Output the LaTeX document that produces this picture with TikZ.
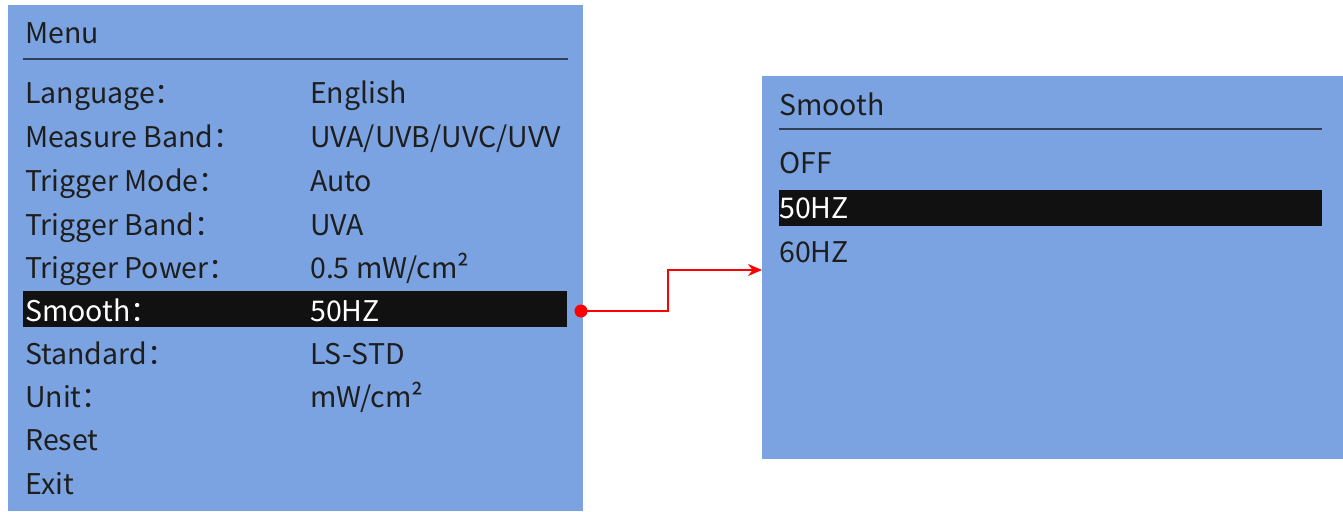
\documentclass[tikz,border=0pt]{standalone}
\usepackage{fontspec}
\setmainfont{Noto Sans CJK SC}
\usetikzlibrary{arrows.meta}
\definecolor{panelblue}{RGB}{123,163,225}
\definecolor{bardark}{RGB}{17,17,17}
\definecolor{txt}{RGB}{30,30,30}
\definecolor{rule}{RGB}{50,62,85}
\tikzset{
  panel/.style={fill=panelblue, draw=none},
  selbar/.style={fill=bardark, draw=none},
  lbl/.style={anchor=base west, inner sep=0pt, font=\fontsize{28.5}{31}\selectfont, text=txt},
  sel/.style={lbl, text=white},
  hrule/.style={draw=rule, line width=1.8pt},
  link/.style={draw=red, line width=2pt, -{Stealth[length=14pt,width=12pt]}},
}
\begin{document}
\begin{tikzpicture}[x=1pt,y=-1pt]
\useasboundingbox (0,0) rectangle (1343,511);
% left panel
\path[panel] (8,5) rectangle (583,511);
\draw[hrule] (23,59) -- (568,59);
\path[selbar] (23,291) rectangle (567,327);
\node[lbl] (menu) at (25,43.5) {Menu};
\node[lbl] (l1) at (25,103) {Language：};
\node[lbl] (v1) at (310,103) {English};
\node[lbl] (l2) at (25,147) {Measure Band：};
\node[lbl] (v2) at (310,147) {UVA/UVB/UVC/UVV};
\node[lbl] (l3) at (25,191) {Trigger Mode：};
\node[lbl] (v3) at (310,191) {Auto};
\node[lbl] (l4) at (25,235) {Trigger Band：};
\node[lbl] (v4) at (310,235) {UVA};
\node[lbl] (l5) at (25,278) {Trigger Power：};
\node[lbl] (v5) at (310,278) {0.5 mW/cm²};
\node[sel] (l6) at (25,321) {Smooth：};
\node[sel] (v6) at (310,321) {50HZ};
\node[lbl] (l7) at (25,364) {Standard：};
\node[lbl] (v7) at (310,364) {LS-STD};
\node[lbl] (l8) at (25,407) {Unit：};
\node[lbl] (v8) at (310,407) {mW/cm²};
\node[lbl] (l9) at (25,450) {Reset};
\node[lbl] (l10) at (25,494) {Exit};
% right panel
\path[panel] (762,76) rectangle (1343,459);
\draw[hrule] (779,129) -- (1322,129);
\path[selbar] (779,190) rectangle (1322,226);
\node[lbl] (smooth) at (779,115) {Smooth};
\node[lbl] (off) at (779,173) {OFF};
\node[sel] (h50) at (779,218) {50HZ};
\node[lbl] (h60) at (779,262) {60HZ};
% connector
\coordinate (src) at (581,311);
\coordinate (dst) at (762,270);
\fill[red] (src) circle (6.5pt);
\draw[link] (src) -- (668,311) -- (668,270) -- (dst);
\end{tikzpicture}
\end{document}
